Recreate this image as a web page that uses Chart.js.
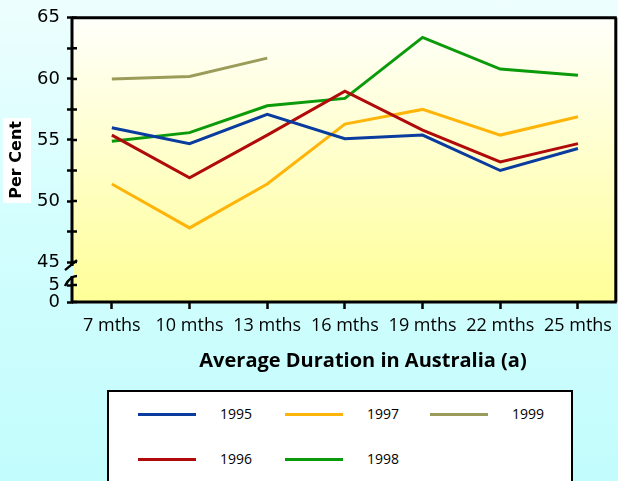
<!DOCTYPE html>
<html>
<head>
<meta charset="utf-8">
<script src="https://cdn.jsdelivr.net/npm/chart.js@4/dist/chart.umd.min.js"></script>
<style>
  html, body { margin: 0; padding: 0; }
  body { width: 618px; height: 481px; overflow: hidden; position: relative;
         background: linear-gradient(to bottom, #eefefe 0%, #d4fefe 45%, #c2fcfc 100%); }
  #wrap { position: absolute; left: 0; top: 0; width: 618px; height: 481px; }
  #legend { position: absolute; left: 107px; top: 390px; width: 462px; height: 95px;
            background: #ffffff; border: 2px solid #000; box-sizing: content-box;
            font-family: "Open Sans", "Noto Sans", sans-serif; font-size: 14px; color: #000; }
  .item { position: absolute; height: 20px; }
  .swatch { position: absolute; left: 0; top: 9px; width: 58px; height: 3px; }
  .lbl { position: absolute; left: 82px; top: 0; line-height: 20px; white-space: nowrap; }
</style>
</head>
<body>
<div id="wrap"><canvas id="c" width="618" height="481"></canvas></div>
<div id="legend"></div>
<script>
// ---- data ----
const categories = ['7 mths', '10 mths', '13 mths', '16 mths', '19 mths', '22 mths', '25 mths'];
const years = ['1995', '1996', '1997', '1998', '1999'];
const values1995 = [56.0, 54.7, 57.1, 55.1, 55.4, 52.5, 54.3];
const values1996 = [55.4, 51.9, 55.4, 59.0, 55.8, 53.2, 54.7];
const values1997 = [51.4, 47.8, 51.4, 56.3, 57.5, 55.4, 56.9];
const values1998 = [54.9, 55.6, 57.8, 58.4, 63.4, 60.8, 60.3];
const values1999 = [60.0, 60.2, 61.7, null, null, null, null];
const yTickValues = [0, 5, 45, 47.5, 50, 52.5, 55, 57.5, 60, 62.5, 65];
const yTickLabels = ['0', '5', '45', '', '50', '', '55', '', '60', '', '65'];
const xTitle = 'Average Duration in Australia (a)';
const yTitle = 'Per Cent';
const colors = ['#0a3ca0', '#b00a0a', '#ffb40a', '#0a9a0a', '#9c9c5a'];

// broken axis: 0-5 compressed at bottom, 45-65 main section
function toAxis(v) {
  if (v === null) return null;
  if (v <= 5) return v * 3.4;
  if (v >= 45) return 40 + (v - 45) * 12.25;
  return 17 + (v - 5) * (23 / 40);
}
const AXIS_MAX = toAxis(65);

const seriesValues = [values1995, values1996, values1997, values1998, values1999];
const datasets = years.map((y, i) => ({
  label: y,
  data: seriesValues[i].map(toAxis),
  borderColor: colors[i],
  backgroundColor: colors[i],
  borderWidth: 3,
  pointRadius: 0,
  tension: 0,
  fill: false,
  spanGaps: false
}));

const framePlugin = {
  id: 'frame',
  beforeDraw(chart) {
    const { ctx, chartArea: a } = chart;
    ctx.save();
    const g = ctx.createLinearGradient(0, a.top, 0, a.bottom);
    g.addColorStop(0, '#fffffb');
    g.addColorStop(1, '#ffff98');
    ctx.fillStyle = g;
    ctx.fillRect(a.left, a.top, a.right - a.left, a.bottom - a.top);
    ctx.fillStyle = '#ffffff';
    ctx.fillRect(3, 118, 28, 85);
    ctx.restore();
  },
  afterDraw(chart) {
    const { ctx, chartArea: a } = chart;
    const ys = chart.scales.y;
    const y45 = ys.getPixelForValue(toAxis(45));
    const y5 = ys.getPixelForValue(toAxis(5));
    ctx.save();
    ctx.strokeStyle = '#000';
    ctx.lineWidth = 3;
    ctx.lineCap = 'butt';
    ctx.beginPath();
    ctx.moveTo(a.left - 1, a.top);
    ctx.lineTo(a.right, a.top);
    ctx.moveTo(a.right - 1, a.top);
    ctx.lineTo(a.right - 1, a.bottom);
    ctx.moveTo(a.left - 1, a.bottom);
    ctx.lineTo(a.right, a.bottom);
    ctx.moveTo(a.left - 1, a.top - 1);
    ctx.lineTo(a.left - 1, y45 + 4);
    ctx.moveTo(a.left - 1, y5 - 9);
    ctx.lineTo(a.left - 1, a.bottom + 1);
    ctx.stroke();
    ctx.lineWidth = 2.5;
    ctx.beginPath();
    ctx.moveTo(a.left - 8, y45 + 8);
    ctx.lineTo(a.left + 4, y45 - 2);
    ctx.moveTo(a.left - 8, y5 + 1);
    ctx.quadraticCurveTo(a.left - 3, y5 - 9, a.left + 4, y5 - 9);
    ctx.stroke();
    ctx.beginPath();
    ys.ticks.forEach(t => {
      const p = ys.getPixelForValue(t.value);
      ctx.moveTo(a.left - 1, p);
      ctx.lineTo(a.left + 4, p);
    });
    ctx.stroke();
    // x axis title (placed as in the original, slightly right of centre)
    ctx.fillStyle = '#000';
    ctx.font = 'bold 20px "Open Sans"';
    ctx.textAlign = 'center';
    ctx.textBaseline = 'middle';
    ctx.fillText(xTitle, 363, 361);
    ctx.restore();
  }
};

const chart = new Chart(document.getElementById('c'), {
  type: 'line',
  data: { labels: categories, datasets },
  options: {
    responsive: false,
    animation: false,
    layout: { padding: { top: 17, right: 1, bottom: 99, left: 0 } },
    plugins: { legend: { display: false }, tooltip: { enabled: false } },
    scales: {
      x: {
        offset: true,
        grid: { drawOnChartArea: false, drawTicks: true, tickLength: 7, tickWidth: 2.5, tickColor: '#000', color: '#000' },
        border: { display: false },
        ticks: { color: '#000', font: { family: 'Open Sans', size: 18 }, padding: 6, maxRotation: 0, autoSkip: false },
        title: { display: false },
        afterFit(s) { s.height = 80; }
      },
      y: {
        min: 0,
        max: AXIS_MAX,
        grid: { drawOnChartArea: false, drawTicks: true, tickLength: 6, tickWidth: 2.5, tickColor: '#000', color: '#000' },
        border: { display: false },
        afterBuildTicks(s) { s.ticks = yTickValues.map(v => ({ value: toAxis(v) })); },
        ticks: {
          autoSkip: false,
          color: '#000',
          padding: 7,
          font: { family: 'DejaVu Sans', size: 18 },
          callback(value, index) { return yTickLabels[index]; }
        },
        title: { display: true, text: yTitle, color: '#000',
                 font: { family: 'DejaVu Sans', size: 16, weight: 'bold' }, padding: { top: 7, bottom: 0 } },
        afterFit(s) { s.width = 73; }
      }
    }
  },
  plugins: [framePlugin]
});

// HTML legend built from the chart's datasets (column-major like the original)
const legend = document.getElementById('legend');
const colX = [29, 176, 321];
const rowY = [12, 57];
chart.data.datasets.forEach((ds, i) => {
  const col = Math.floor(i / 2), row = i % 2;
  const item = document.createElement('div');
  item.className = 'item';
  item.style.left = colX[col] + 'px';
  item.style.top = rowY[row] + 'px';
  const sw = document.createElement('div');
  sw.className = 'swatch';
  sw.style.background = ds.borderColor;
  const lb = document.createElement('div');
  lb.className = 'lbl';
  lb.textContent = ds.label;
  item.appendChild(sw);
  item.appendChild(lb);
  legend.appendChild(item);
});
</script>
</body>
</html>
